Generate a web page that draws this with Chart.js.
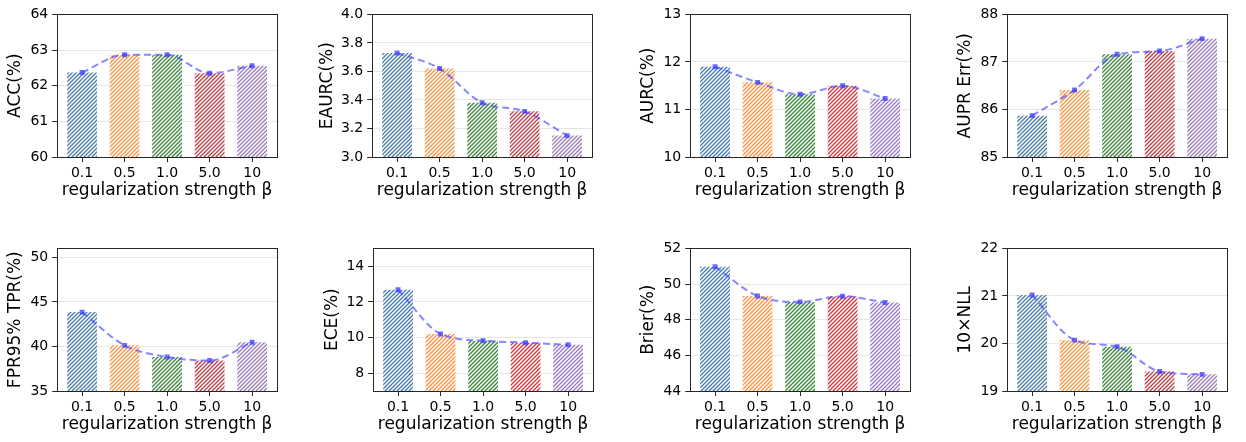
<!DOCTYPE html>
<html>
<head>
<meta charset="utf-8">
<script src="https://cdn.jsdelivr.net/npm/chart.js@4.4.0/dist/chart.umd.min.js"></script>
<style>
html, body { margin: 0; padding: 0; background: #fff; }
#figure { position: relative; width: 1246px; height: 442px; overflow: hidden; }
#figure canvas { position: absolute; }
</style>
</head>
<body>
<div id="figure"></div>
<script>
const betaLabels = ['0.1', '0.5', '1.0', '5.0', '10'];
const barColors = ['#4a7dae', '#f49444', '#3d883d', '#c63c42', '#9c7cc0'];

// metric values per beta
const accValues = [62.37, 62.87, 62.87, 62.35, 62.56];
const eaurcValues = [3.73, 3.62, 3.38, 3.32, 3.15];
const aurcValues = [11.90, 11.57, 11.32, 11.50, 11.23];
const auprErrValues = [85.87, 86.41, 87.16, 87.23, 87.49];
const fprValues = [43.85, 40.12, 38.82, 38.42, 40.47];
const eceValues = [12.68, 10.20, 9.82, 9.71, 9.59];
const brierValues = [50.97, 49.33, 49.00, 49.32, 48.96];
const nllValues = [21.02, 20.07, 19.93, 19.41, 19.35];

// y tick positions
const accTicks = [60, 61, 62, 63, 64];
const eaurcTicks = [3.0, 3.2, 3.4, 3.6, 3.8, 4.0];
const aurcTicks = [10, 11, 12, 13];
const auprErrTicks = [85, 86, 87, 88];
const fprTicks = [35, 40, 45, 50];
const eceTicks = [8, 10, 12, 14];
const brierTicks = [44, 46, 48, 50, 52];
const nllTicks = [19, 20, 21, 22];

const PLOT_W = 220;
const PLOT_H = 145;
const PAD_TOP = 10;
const PAD_RIGHT = 6;
const X_AXIS_H = 44;

const tickFont = { family: 'DejaVu Sans', size: 14 };
const titleFont = { family: 'DejaVu Sans', size: 17 };

const panels = [
    { label: 'ACC(%)', values: accValues, ticks: accTicks, min: 60, max: 64, dec: 0, left: 57, top: 12, titleGap: 42 },
    { label: 'EAURC(%)', values: eaurcValues, ticks: eaurcTicks, min: 3.0, max: 4.0, dec: 1, left: 372, top: 12, titleGap: 45 },
    { label: 'AURC(%)', values: aurcValues, ticks: aurcTicks, min: 10, max: 13, dec: 0, left: 690, top: 12, titleGap: 42 },
    { label: 'AUPR Err(%)', values: auprErrValues, ticks: auprErrTicks, min: 85, max: 88, dec: 0, left: 1007, top: 12, titleGap: 42 },
    { label: 'FPR95% TPR(%)', values: fprValues, ticks: fprTicks, min: 35, max: 51, dec: 0, left: 57, top: 246, titleGap: 42 },
    { label: 'ECE(%)', values: eceValues, ticks: eceTicks, min: 7, max: 15, dec: 0, left: 373, top: 246, titleGap: 41 },
    { label: 'Brier(%)', values: brierValues, ticks: brierTicks, min: 44, max: 52, dec: 0, left: 690, top: 246, titleGap: 42 },
    { label: '10\u00d7NLL', values: nllValues, ticks: nllTicks, min: 19, max: 22, dec: 0, left: 1007, top: 246, titleGap: 42 }
];

// white '////' hatch on a solid fill
function makeHatch(color) {
    const size = 4;
    const c = document.createElement('canvas');
    c.width = size;
    c.height = size;
    const g = c.getContext('2d');
    g.fillStyle = color;
    g.fillRect(0, 0, size, size);
    g.strokeStyle = '#ffffff';
    g.lineWidth = 1.5;
    g.beginPath();
    g.moveTo(-1, size + 1); g.lineTo(size + 1, -1);
    g.moveTo(-1, 1); g.lineTo(1, -1);
    g.moveTo(size - 1, size + 1); g.lineTo(size + 1, size - 1);
    g.stroke();
    return g.createPattern(c, 'repeat');
}

// box around the plot area
const framePlugin = {
    id: 'frame',
    afterDraw(chart) {
        const { ctx, chartArea: a } = chart;
        ctx.save();
        ctx.strokeStyle = '#262626';
        ctx.lineWidth = 1;
        ctx.strokeRect(Math.round(a.left) + 0.5, Math.round(a.top) + 0.5,
            Math.round(a.right - a.left), Math.round(a.bottom - a.top));
        ctx.restore();
    }
};

function drawPanel(p) {
    const yw = p.titleGap + titleFont.size * 1.2 / 2;
    const canvas = document.createElement('canvas');
    canvas.width = Math.round(yw + PLOT_W + PAD_RIGHT);
    canvas.height = PAD_TOP + PLOT_H + X_AXIS_H;
    canvas.style.left = Math.round(p.left - yw) + 'px';
    canvas.style.top = (p.top - PAD_TOP) + 'px';
    document.getElementById('figure').appendChild(canvas);

    const points = p.values.map((v, i) => ({ x: i, y: v }));
    const hatches = barColors.map(makeHatch);

    new Chart(canvas, {
        type: 'bar',
        data: {
            datasets: [
                {
                    type: 'line',
                    data: points,
                    order: 0,
                    borderColor: 'rgba(70,70,255,0.65)',
                    borderWidth: 2,
                    borderDash: [7, 4],
                    cubicInterpolationMode: 'monotone',
                    pointStyle: 'rect',
                    pointRadius: 3.5,
                    pointBackgroundColor: 'rgba(60,60,255,0.75)',
                    pointBorderWidth: 0
                },
                {
                    type: 'bar',
                    data: points,
                    order: 1,
                    backgroundColor: hatches,
                    borderWidth: 0,
                    barPercentage: 0.7,
                    categoryPercentage: 1
                }
            ]
        },
        options: {
            responsive: false,
            animation: false,
            layout: { padding: { top: PAD_TOP, right: PAD_RIGHT, left: 0, bottom: 0 } },
            plugins: { legend: { display: false }, tooltip: { enabled: false } },
            scales: {
                x: {
                    type: 'linear',
                    min: -0.585,
                    max: 4.585,
                    offset: false,
                    afterBuildTicks: s => { s.ticks = betaLabels.map((_, i) => ({ value: i })); },
                    afterFit: s => { s.height = X_AXIS_H; },
                    ticks: { callback: v => betaLabels[v], font: tickFont, color: '#000', padding: 3, autoSkip: false, maxRotation: 0 },
                    grid: { offset: false, drawOnChartArea: false, tickLength: 5, tickColor: '#262626' },
                    border: { display: false },
                    title: { display: true, text: 'regularization strength \u03b2', font: titleFont, color: '#000', padding: 0 }
                },
                y: {
                    min: p.min,
                    max: p.max,
                    afterBuildTicks: s => { s.ticks = p.ticks.map(v => ({ value: v })); },
                    afterFit: s => { s.width = yw; },
                    ticks: { callback: v => v.toFixed(p.dec), font: tickFont, color: '#000', padding: 4 },
                    grid: { color: '#e6e6e6', lineWidth: 1, tickLength: 5, tickColor: '#262626' },
                    border: { display: false },
                    title: { display: true, text: p.label, font: titleFont, color: '#000', padding: 0 }
                }
            }
        },
        plugins: [framePlugin]
    });
}

panels.forEach(drawPanel);
</script>
</body>
</html>
